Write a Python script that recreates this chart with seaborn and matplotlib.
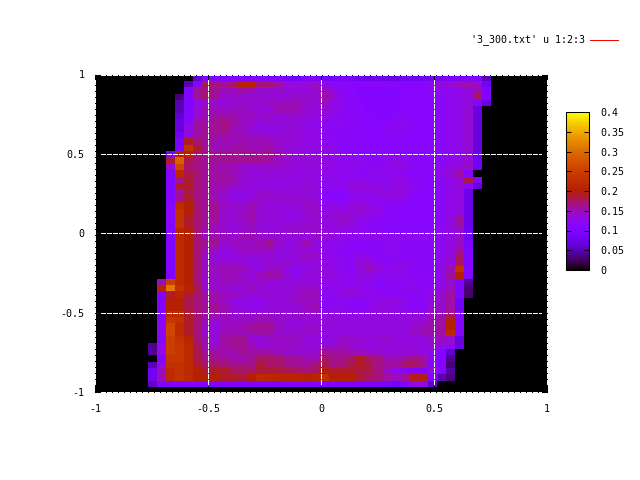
import numpy as np
import matplotlib
matplotlib.use("Agg")
import matplotlib.pyplot as plt
from matplotlib.patches import Rectangle
import seaborn as sns

# first filled column of each row, then the values (thousandths) from there on
row_starts = [11,10,10,9,9,9,9,9,9,9,9,9,8,8,8,8,8,8,8,8,8,8,8,8,8,
              8,8,8,8,8,8,8,7,7,7,7,7,7,7,7,7,7,6,6,7,6,6,6,6]
row_values = [
 [60,100,100,100,100,100,100,100,100,100,85,85,100,90,90,85,90,90,80,75,80,70,75,80,80,80,80,85,90,90,100,100,50],
 [50,100,175,170,160,175,205,205,170,170,155,135,135,135,145,127,117,117,112,112,112,112,112,112,112,112,112,127,132,137,147,155,140,85],
 [100,160,170,160,150,150,155,150,140,140,140,135,135,135,140,147,132,117,112,107,107,107,107,107,112,112,112,117,122,122,127,132,155,100],
 [30,100,160,170,160,140,140,140,140,140,135,135,135,140,140,140,155,140,117,112,107,107,107,107,107,112,112,112,112,117,122,127,132,175,100],
 [50,100,125,140,140,135,140,140,140,140,145,145,150,150,140,135,147,127,122,117,112,107,107,107,107,112,112,112,112,117,122,127,132,105,70],
 [50,100,135,150,150,140,145,145,140,135,135,150,150,150,140,135,137,127,122,117,112,107,107,107,107,112,112,112,112,117,122,127,137,70],
 [60,105,140,150,155,155,155,145,145,140,145,135,135,140,135,130,132,122,117,117,112,112,107,107,112,117,112,112,112,117,122,127,137,70],
 [70,120,155,155,160,165,155,145,140,135,135,135,140,135,130,125,127,122,122,117,112,112,112,112,117,122,117,112,112,117,122,127,137,70],
 [70,130,155,160,160,165,150,145,135,130,130,130,135,135,130,125,122,117,117,117,117,112,112,117,122,122,117,112,112,117,122,127,137,70],
 [80,130,155,160,160,155,150,150,140,140,135,135,140,135,130,130,122,117,117,117,112,112,112,117,117,117,112,112,112,117,122,127,137,70],
 [90,190,170,160,150,150,150,150,150,150,150,140,135,135,130,130,122,122,117,112,112,112,112,112,112,112,112,112,112,117,122,127,137,70],
 [90,230,190,160,150,150,155,155,150,150,155,145,135,130,130,130,132,127,117,112,112,112,112,112,112,112,112,112,112,117,122,127,137,70],
 [90,200,200,170,160,160,160,160,160,160,160,160,150,140,135,135,135,127,127,122,117,117,117,117,117,117,117,112,112,112,117,122,127,137,75],
 [190,290,180,165,160,160,160,160,160,160,160,155,145,140,135,135,135,132,127,122,127,122,117,117,122,132,122,117,112,112,117,127,132,137,80],
 [140,260,170,165,160,155,150,150,140,140,140,140,140,135,135,135,135,132,127,122,122,122,117,122,122,132,127,117,117,112,117,127,132,142,80],
 [100,220,180,170,160,155,155,150,140,135,135,135,135,135,130,130,130,127,122,122,122,117,122,122,122,122,117,112,112,117,127,137,155,105],
 [100,160,190,165,160,155,155,155,135,135,135,130,130,130,130,135,130,122,122,122,127,127,122,122,122,127,127,117,112,112,117,127,137,180,105],
 [100,190,190,165,160,150,150,140,140,130,130,130,130,135,135,135,135,122,122,122,132,137,132,127,122,132,127,122,112,112,117,127,137,115,70],
 [100,160,180,165,160,150,140,130,130,130,140,140,135,135,135,135,130,117,112,112,127,127,127,132,132,137,132,117,112,112,117,127,132,75],
 [100,160,190,165,160,150,140,130,130,135,140,140,140,140,140,140,135,112,112,112,122,122,122,122,127,127,122,117,112,112,117,127,132,75],
 [110,220,200,170,160,160,145,140,140,150,140,135,135,135,135,140,140,122,127,122,132,137,127,122,117,117,112,112,112,112,117,127,132,75],
 [110,230,200,170,160,160,140,135,145,150,135,135,135,130,130,140,140,132,137,137,137,137,132,127,117,117,112,112,112,112,117,127,132,75],
 [110,230,190,170,160,160,140,140,145,155,140,135,135,130,130,135,140,132,137,142,137,127,122,117,117,112,112,112,112,112,117,132,155,75],
 [110,230,190,170,160,150,140,135,140,145,135,130,135,135,140,140,140,132,132,137,132,122,117,117,117,112,112,112,112,112,117,132,155,75],
 [110,210,200,170,150,145,140,135,140,145,140,135,135,140,140,140,140,137,132,127,127,122,122,117,112,112,112,112,112,112,122,132,137,80],
 [100,220,200,170,150,155,145,140,150,150,140,140,140,135,135,135,140,137,132,127,122,122,122,127,122,122,122,122,122,117,122,132,142,80],
 [100,220,200,170,160,160,140,145,145,145,150,160,140,130,135,150,135,127,122,122,117,117,117,117,122,122,117,117,117,117,122,132,145,90],
 [100,220,200,170,150,145,130,135,145,145,145,145,135,130,135,135,135,127,122,117,117,117,117,117,122,122,117,117,117,117,122,132,155,100],
 [100,220,200,170,145,135,130,130,135,135,135,135,135,130,135,145,140,127,122,117,122,127,127,117,117,117,117,117,117,117,122,137,175,100],
 [100,220,200,170,140,140,140,140,135,130,135,135,135,140,135,135,130,132,127,122,117,137,137,122,117,122,122,122,117,117,122,137,175,100],
 [100,220,200,170,145,145,150,150,145,135,130,145,145,130,125,130,135,132,127,122,117,132,147,132,122,127,122,117,117,117,127,150,230,110],
 [100,220,200,170,145,145,150,150,140,135,145,155,150,135,125,135,135,132,132,122,122,132,132,122,122,122,122,117,117,117,127,155,200,105],
 [150,250,220,200,170,140,140,145,145,145,140,140,135,135,135,135,135,135,127,127,122,117,122,122,117,117,117,122,122,117,117,127,142,100,40],
 [210,310,230,210,180,140,140,140,135,135,145,135,135,135,135,140,145,140,122,122,127,132,127,122,117,117,122,122,122,117,122,132,147,100,30],
 [100,190,210,190,170,155,155,145,145,140,135,135,140,135,140,140,150,150,122,122,132,137,127,122,122,117,117,117,117,122,127,142,155,100,30],
 [100,200,200,180,170,155,150,145,130,130,125,125,135,135,135,145,145,145,117,117,122,117,117,122,127,132,132,122,117,117,132,142,155,85],
 [100,200,200,180,170,160,160,150,135,130,125,125,135,135,135,135,145,150,117,122,122,117,117,122,132,132,127,122,117,117,137,142,155,85],
 [100,220,220,190,170,155,155,150,140,140,140,145,140,140,140,140,140,140,132,132,132,127,127,132,132,132,132,132,132,132,147,147,170,100],
 [110,240,230,190,170,150,140,145,145,145,145,150,150,140,135,135,135,135,137,137,132,132,132,132,132,132,132,132,137,137,152,155,200,100],
 [120,260,220,190,170,140,130,145,145,150,160,160,160,145,135,135,140,140,132,132,132,132,132,132,132,132,132,132,137,147,152,155,200,105],
 [120,260,220,190,170,140,135,150,150,150,150,155,155,140,140,140,140,140,132,132,132,132,132,132,132,132,132,132,142,147,152,155,220,105],
 [110,250,230,210,170,150,135,155,160,160,140,135,140,145,145,145,135,135,127,132,142,142,137,132,137,142,132,132,132,132,142,147,140,70],
 [40,130,250,240,220,180,150,140,155,160,160,150,140,140,140,145,140,135,135,142,142,147,137,137,132,132,132,132,137,132,132,137,125,120,70],
 [40,130,250,240,220,180,160,160,150,150,160,155,155,155,150,140,140,140,140,162,157,157,152,147,142,142,137,137,137,137,132,122,100,60],
 [100,240,240,220,180,165,160,160,150,150,160,175,175,170,160,160,150,150,175,165,165,175,190,175,165,147,147,157,165,157,115,100,40],
 [50,130,230,230,220,190,175,175,170,165,165,165,185,175,175,165,160,160,170,180,165,170,180,190,180,165,157,157,175,175,160,110,100,30],
 [80,150,220,230,220,200,185,190,190,175,175,175,185,185,185,180,175,170,175,195,190,190,190,185,180,165,145,130,115,105,105,130,100,45],
 [80,150,220,230,220,200,200,200,190,190,185,200,220,215,210,210,210,205,210,225,200,200,200,185,175,170,155,145,160,195,195,100,50,35],
 [55,100,100,100,100,100,100,100,100,100,100,100,100,100,100,100,100,100,100,100,100,95,95,90,90,90,90,85,105,130,130,60],
]
axis_ticks = [-1, -0.5, 0, 0.5, 1]
tick_labels = ["-1", "-0.5", "0", "0.5", "1"]
cbar_ticks = [0, 0.05, 0.1, 0.15, 0.2, 0.25, 0.3, 0.35, 0.4]
cbar_labels = ["0", "0.05", "0.1", "0.15", "0.2", "0.25", "0.3", "0.35", "0.4"]
key_label = "'3_300.txt' u 1:2:3"

grid = np.zeros((50, 50))
for r, (s, vals) in enumerate(zip(row_starts, row_values)):
    grid[r, s:s + len(vals)] = np.array(vals) / 1000.0

W, H = 640.0, 480.0
FONT = "DejaVu Sans Mono"
fig = plt.figure(figsize=(6.4, 4.8), dpi=100, facecolor="white")
ax = fig.add_axes([95 / W, (H - 392) / H, 452 / W, 317.5 / H])
cax = fig.add_axes([566 / W, (H - 270) / H, 23 / W, 158 / H])

sns.heatmap(grid, ax=ax, cbar_ax=cax, cmap="gnuplot", vmin=0, vmax=0.4,
            xticklabels=False, yticklabels=False)

x0, x1 = 0.13, 50.19
y1 = 49.75
ax.set_xlim(x0, x1)
ax.set_ylim(y1, 0)
ax.set_facecolor("black")
to_x = lambda v: x0 + (v + 1) / 2 * (x1 - x0)
to_y = lambda v: (1 - v) / 2 * y1

xt = [to_x(v) for v in axis_ticks]
yt = [to_y(v) for v in axis_ticks]
ax.set_xticks(xt)
ax.set_xticklabels(tick_labels, fontfamily=FONT, fontsize=7.2)
ax.set_yticks(yt)
ax.set_yticklabels(tick_labels, fontfamily=FONT, fontsize=7.2)
ax.tick_params(axis="both", direction="in", length=4.5, width=0.75, color="black",
               top=True, right=True, bottom=True, left=True, pad=7.5, labelcolor="black")
ax.tick_params(axis="x", pad=8.5)
for s in ax.spines.values():
    s.set_visible(True)
    s.set_color("black")
    s.set_linewidth(0.75)

dash = (0, (4, 1))
for xv in xt:
    ax.plot([xv, xv], [to_y(1) + 0.9, to_y(-1) - 0.9], color="white", lw=0.75, ls=dash,
            antialiased=False, zorder=5, clip_on=False)
for yv in yt:
    ax.plot([to_x(-1) + 0.65, to_x(1) - 0.65], [yv, yv], color="white", lw=0.75, ls=dash,
            antialiased=False, zorder=5, clip_on=False)

cb = ax.collections[0].colorbar
cb.set_ticks(cbar_ticks)
cb.set_ticklabels(cbar_labels, fontfamily=FONT, fontsize=7.2)
cb.outline.set_visible(True)
cb.outline.set_edgecolor("black")
cb.outline.set_linewidth(0.75)
cax.tick_params(axis="y", direction="in", length=3.5, width=0.75, color="black",
                left=True, right=True, pad=8, labelcolor="black")

fig.text(585 / W, (H - 40) / H, key_label, ha="right", va="center",
         fontfamily=FONT, fontsize=7.2, color="black")
fig.add_artist(Rectangle((590 / W, (H - 41) / H), 29 / W, 1 / H, facecolor="#ff0000",
                         edgecolor="none", antialiased=False,
                         transform=fig.transFigure))

fig.savefig("out.png", dpi=100)
